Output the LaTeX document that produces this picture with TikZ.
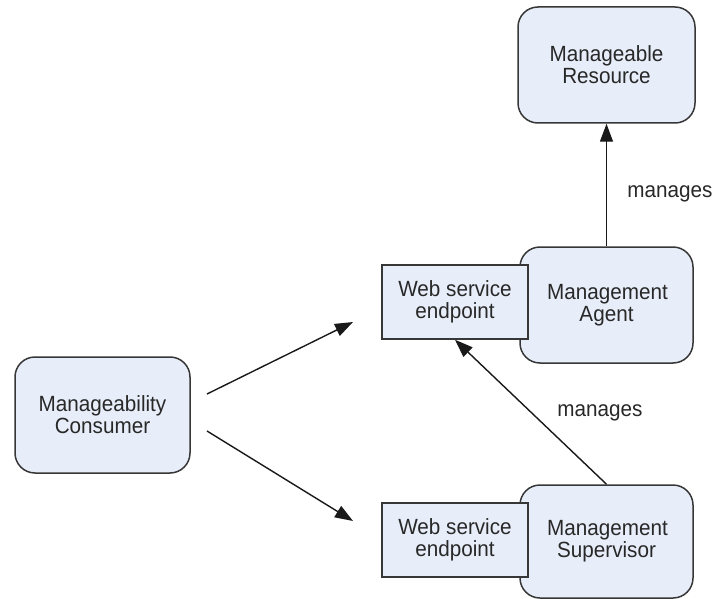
\documentclass[tikz,border=0pt]{standalone}
\usepackage{fontspec}
\setmainfont[FakeStretch=0.94]{Liberation Sans}
\usetikzlibrary{arrows.meta}
\definecolor{boxfill}{RGB}{232,238,249}
\definecolor{boxline}{RGB}{55,55,55}
\definecolor{txt}{RGB}{40,40,40}
\tikzset{
  role/.style={draw=boxline, fill=boxfill, line width=1.5pt, rounded corners=20pt,
    align=center, text=txt, inner sep=0pt,
    font=\fontsize{22pt}{22pt}\selectfont},
  endpointbox/.style={draw=boxline, fill=boxfill, line width=1.5pt,
    align=center, text=txt, inner sep=0pt,
    font=\fontsize{22pt}{22pt}\selectfont},
  link/.style={line width=1.4pt, draw=black!90,
    -{Triangle[length=18pt,width=13pt]}},
  lbl/.style={text=txt, font=\fontsize{22pt}{22pt}\selectfont, inner sep=0pt}
}
\begin{document}
\begin{tikzpicture}[x=1pt,y=-1pt]
\useasboundingbox (0,0) rectangle (715,599);

% components
\node[role, minimum width=177pt, minimum height=116pt] (res) at (606.5,65)
  {Manageable\\Resource};
\node[role, minimum width=173pt, minimum height=116pt] (agent) at (606.5,305)
  {\hspace*{2pt}Management\\Agent};
\node[role, minimum width=173pt, minimum height=113pt] (sup) at (606.5,541.5)
  {\hspace*{2pt}Management\\Supervisor};
\node[role, minimum width=175pt, minimum height=116pt] (cons) at (102.5,415)
  {Manageability\\Consumer};

% service endpoints in front of the agent and supervisor
\node[endpointbox, minimum width=146pt, minimum height=74pt] (ws1) at (455,302)
  {Web service\\endpoint};
\node[endpointbox, minimum width=146pt, minimum height=74pt] (ws2) at (455,540)
  {Web service\\endpoint};

% consumer calls
\coordinate (c1s) at (207,394);
\coordinate (c1e) at (353,322);
\coordinate (c2s) at (207,431);
\coordinate (c2e) at (353,521);
\draw[link] (c1s) -- (c1e);
\draw[link] (c2s) -- (c2e);

% management relations
\draw[link] (agent.north) -- (res.south);
\draw[link] (sup.north) -- (ws1.south);

\node[lbl, anchor=base] (m1) at (670,197) {manages};
\node[lbl, anchor=base] (m2) at (600,416) {manages};
\end{tikzpicture}
\end{document}
